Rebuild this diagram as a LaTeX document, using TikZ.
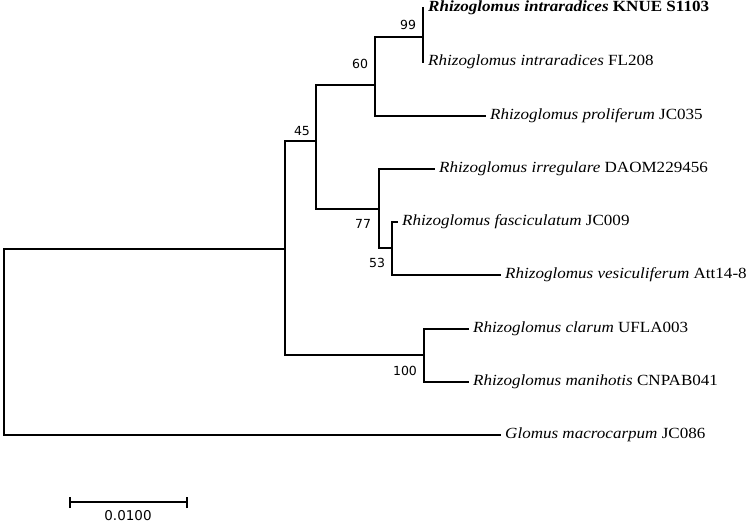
\documentclass[tikz,border=0pt]{standalone}
\usepackage{fontspec}
\setmainfont[FakeStretch=1.1]{Liberation Serif}
\newfontfamily\bsfont{DejaVu Sans}
\begin{document}
\begin{tikzpicture}[x=1pt,y=-1pt,
  br/.style={line width=1.6pt, line cap=rect},
  leaf/.style={anchor=west, inner sep=0pt, font=\fontsize{15.5}{15.5}\selectfont},
  boot/.style={inner sep=0pt, font=\bsfont\fontsize{12.5}{12.5}\selectfont}]
\useasboundingbox (0,0) rectangle (750,525);
% internal nodes
\coordinate (r0) at (4,249);
\coordinate (r1) at (4,435);
\coordinate (n1) at (285,249);
\coordinate (n1t) at (285,141);
\coordinate (n1b) at (285,355);
\coordinate (n45) at (316,141);
\coordinate (n45t) at (316,85);
\coordinate (n45b) at (316,209);
\coordinate (n60) at (375,85);
\coordinate (n60t) at (375,37);
\coordinate (n60b) at (375,116);
\coordinate (n99) at (423,37);
\coordinate (n99t) at (423,8);
\coordinate (n99b) at (423,62);
\coordinate (n77) at (379,209);
\coordinate (n77t) at (379,169);
\coordinate (n77b) at (379,248);
\coordinate (n53) at (392,248);
\coordinate (n53t) at (392,222);
\coordinate (n53b) at (392,275);
\coordinate (n100) at (424,355);
\coordinate (n100t) at (424,329);
\coordinate (n100b) at (424,382);
% leaves
\node[leaf] (t1) at (428,8) {\textbf{\textit{Rhizoglomus intraradices} KNUE S1103}};
\node[leaf] (t2) at (428,62) {\textit{Rhizoglomus intraradices} FL208};
\node[leaf] (t3) at (490,116) {\textit{Rhizoglomus proliferum} JC035};
\node[leaf] (t4) at (439,169) {\textit{Rhizoglomus irregulare} DAOM229456};
\node[leaf] (t5) at (402,222) {\textit{Rhizoglomus fasciculatum} JC009};
\node[leaf] (t6) at (505,275) {\textit{Rhizoglomus vesiculiferum} Att14-8};
\node[leaf] (t7) at (473,329) {\textit{Rhizoglomus clarum} UFLA003};
\node[leaf] (t8) at (473,382) {\textit{Rhizoglomus manihotis} CNPAB041};
\node[leaf] (t9) at (505,435) {\textit{Glomus macrocarpum} JC086};
% branches
\draw[br] (r0) -- (r1);
\draw[br] (r0) -- (n1);
\draw[br] (r1) -- ([xshift=-5pt]t9.west);
\draw[br] (n1t) -- (n1b);
\draw[br] (n1t) -- (n45);
\draw[br] (n1b) -- (n100);
\draw[br] (n45t) -- (n45b);
\draw[br] (n45t) -- (n60);
\draw[br] (n45b) -- (n77);
\draw[br] (n60t) -- (n60b);
\draw[br] (n60t) -- (n99);
\draw[br] (n60b) -- ([xshift=-5pt]t3.west);
\draw[br] (n99t) -- (n99b);
\draw[br] (n77t) -- (n77b);
\draw[br] (n77t) -- ([xshift=-5pt]t4.west);
\draw[br] (n77b) -- (n53);
\draw[br] (n53t) -- (n53b);
\draw[br] (n53t) -- ([xshift=-5pt]t5.west);
\draw[br] (n53b) -- ([xshift=-5pt]t6.west);
\draw[br] (n100t) -- (n100b);
\draw[br] (n100t) -- ([xshift=-5pt]t7.west);
\draw[br] (n100b) -- ([xshift=-5pt]t8.west);
% bootstrap
\node[boot] (b99) at (408,25) {99};
\node[boot] (b60) at (360,64) {60};
\node[boot] (b45) at (302,131) {45};
\node[boot] (b77) at (363,224) {77};
\node[boot] (b53) at (377,263) {53};
\node[boot] (b100) at (405,371) {100};
% scale bar
\coordinate (s0) at (70,502);
\coordinate (s1) at (187,502);
\draw[line width=1.6pt] (s0) -- (s1);
\draw[line width=1.4pt] ([yshift=-6pt]s0) -- ([yshift=5pt]s0);
\draw[line width=1.4pt] ([yshift=-6pt]s1) -- ([yshift=5pt]s1);
\node[boot, font=\bsfont\fontsize{13.5}{13.5}\selectfont] (sl) at (128,516) {0.0100};
\end{tikzpicture}
\end{document}
